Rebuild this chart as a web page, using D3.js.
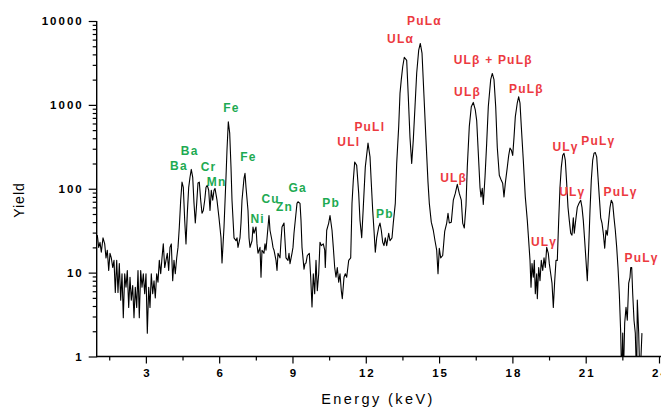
<!DOCTYPE html>
<html><head><meta charset="utf-8">
<script src="https://cdn.jsdelivr.net/npm/d3@7"></script>
<style>
html,body{margin:0;padding:0;background:#fff;}
svg{display:block;font-family:"Liberation Sans",Arial,sans-serif;}
</style></head><body>
<svg id="chart" width="661" height="408"></svg>
<script>
// ---- data (energy in keV, yield in counts) ----
const energy = [
1.012,1.070,1.123,1.176,1.246,1.315,1.368,1.422,1.479,1.532,1.585,1.643,1.696,1.749,1.806,1.859,1.913,1.970,
2.023,2.076,2.134,2.187,2.240,2.297,2.351,2.404,2.461,2.514,2.567,2.625,2.678,2.731,2.788,2.842,2.895,2.952,
3.005,3.059,3.116,3.169,3.222,3.280,3.333,3.386,3.443,3.496,3.550,3.607,3.660,3.713,3.771,3.824,3.877,3.934,3.987,
4.041,4.098,4.151,4.204,4.262,4.315,4.368,4.425,4.479,4.532,4.589,4.642,4.696,4.753,4.806,4.859,4.917,4.970,
5.023,5.080,5.133,5.187,5.244,5.297,5.350,5.408,5.461,5.514,5.571,5.625,5.678,5.735,5.788,5.829,5.911,5.993,
6.075,6.116,6.198,6.279,6.320,6.374,6.431,6.484,6.525,6.607,6.689,6.730,6.770,6.852,6.893,6.934,
7.016,7.057,7.098,7.180,7.221,7.262,7.344,7.384,7.425,7.507,7.548,7.589,7.671,7.712,7.753,7.834,7.875,7.916,7.998,
8.039,8.080,8.162,8.203,8.244,8.326,8.367,8.407,8.489,8.530,8.571,8.653,8.694,8.735,8.817,8.858,8.899,8.980,
9.021,9.062,9.144,9.185,9.226,9.308,9.349,9.390,9.472,9.513,9.553,9.607,9.689,9.746,9.799,9.852,9.909,9.963,
10.016,10.073,10.126,10.180,10.261,10.319,10.343,10.401,10.482,10.536,10.618,10.671,10.728,10.781,10.834,10.892,10.945,10.998,
11.039,11.109,11.162,11.219,11.301,11.383,11.436,11.489,11.546,11.628,11.710,11.763,11.833,11.898,11.980,
12.091,12.173,12.226,12.283,12.336,12.390,12.447,12.529,12.582,12.635,12.692,12.745,12.799,12.856,12.938,12.991,
13.073,13.126,13.208,13.265,13.347,13.400,13.453,13.511,13.576,13.674,13.740,13.809,13.879,13.944,
14.014,14.084,14.166,14.231,14.301,14.383,14.464,14.546,14.600,14.681,14.763,14.833,14.902,14.956,
15.009,15.066,15.148,15.230,15.312,15.365,15.418,15.500,15.582,15.663,15.745,15.827,15.909,15.966,
16.032,16.101,16.154,16.236,16.318,16.400,16.482,16.539,16.605,16.674,16.715,16.768,16.809,16.879,16.948,
17.014,17.112,17.178,17.247,17.317,17.382,17.464,17.546,17.603,17.656,17.710,17.792,17.849,17.902,17.955,
18.013,18.066,18.119,18.201,18.258,18.311,18.365,18.446,18.528,18.610,18.667,18.721,18.762,18.803,18.856,18.897,18.938,18.995,
19.020,19.077,19.130,19.183,19.241,19.294,19.347,19.404,19.470,19.511,19.568,19.621,19.675,19.732,19.785,19.838,19.895,19.948,
20.002,20.059,20.112,20.165,20.222,20.276,20.329,20.386,20.439,20.493,20.533,20.591,20.656,20.726,20.795,20.849,20.902,20.959,
21.012,21.066,21.123,21.176,21.229,21.287,21.340,21.393,21.450,21.504,21.557,21.614,21.667,21.721,21.778,21.831,21.884,21.942,21.995,
22.048,22.105,22.159,22.212,22.269,22.322,22.376,22.433,22.474,22.515,22.539,22.596,22.650,22.703,22.760,22.813,22.842,22.883,22.924,22.977,
23.030,23.087,23.112,23.169,23.220,23.302
];
const counts = [
28,20,23,17.5,26,22,15,18.5,10.6,17,15,11.5,14,5.8,14,5.8,12.8,4.7,
9.7,2.9,9.7,6.7,10.6,3.85,8.8,4.7,7,2.9,6.7,3.85,10.6,2.9,10.6,6.7,9.7,5.6,
9.7,1.9,6.7,3.85,9.7,5.6,8,5,9.7,7.7,14,9.7,15,22,11.5,14,17,10.6,20,
22,8,14,9.7,15,20,34.6,73,120,104,42,22,51,104,137,170,137,67,
39,67,117,120,73,51,55,73,104,110,96,55,96,73,96,101,73,45,
26,13,35,137,290,630,460,181,73,26,24,26,20,26,39,73,
133,153,104,55,26,20,24,35,29.5,35,22,17,20,8.8,18.5,17,22,18.5,35,
48,32,24,20,18.5,14,10.6,17,15,24,35,39,24,15,14,17,12.8,17,
20,29.5,51,67,70,67,42,20,11,12.8,13,16,17,8.8,3.9,9.7,5.6,14,
6.1,9.7,23,21,22,18.5,11.5,32,39,48,32,20,11.5,8.8,11.5,7.7,9.7,6.1,
4.9,8.8,9.7,8.8,14,15,67,126,208,190,88,42,26,60,181,
350,240,116,55,32,17.5,26,35,39,32,23,21,26,21,29.5,24,
26,39,67,200,550,1370,2000,2850,3700,3400,1250,410,200,380,
950,2400,4500,5400,4150,1250,380,120,67,40,32,24,18.5,9.7,
19.5,15,16,31,39,51,39,40,73,88,113,88,73,39,
34,63,181,550,950,1070,870,650,265,104,80,101,65,137,350,
950,2000,2370,2000,950,310,145,126,116,80,116,181,250,305,290,
250,410,720,1060,1250,1050,550,220,80,42,24,14,6.7,12.8,8.8,14,5.6,9.7,
4.9,11.5,8,14,10.6,15,11.5,20,17,12.8,9.7,7.5,3.85,8,14,14,42,104,
181,250,265,220,116,60,42,29.5,28,45,29.5,42,60,67,73,60,42,24,
14,8,20,55,126,220,265,270,240,137,80,45,39,29.5,19.5,32,28,42,60,
73,67,45,32,20,11.5,5.6,1.9,0.5,1.9,0.5,2.5,3.85,2.7,7.5,8.8,11.5,11.5,5.6,2.7,
1.9,0.5,4.7,1.9,0.5,1.9
];
const xTickValues = [3,6,9,12,15,18,21,24];
const xMinorValues = [1.5,4.5,7.5,10.5,13.5,16.5,19.5,22.5];
const yTickValues = [1,10,100,1000,10000];
const yTickLabels = ["1","10","100","1000","10000"];

// element (green) annotations: text, anchor energy, anchor yield
const greenLabels = ["Ba","Ba","Cr","Mn","Fe","Fe","Ni","Cu","Zn","Ga","Pb","Pb"];
const greenEnergy = [4.33,4.77,5.54,5.87,6.48,7.17,7.55,8.08,8.65,9.19,10.56,12.76];
const greenYield  = [187,284,182,120,918,239,43.6,75.5,60.6,102,67.6,50];
// U / Pu (red) annotations
const redLabels = ["ULl","PuLl","ULα","PuLα","ULβ + PuLβ","ULβ","PuLβ","ULβ","ULγ","ULγ","PuLγ","ULγ","PuLγ","PuLγ"];
const redEnergy = [11.28,12.14,13.40,14.38,17.19,16.14,18.55,15.57,19.27,20.15,21.49,20.43,22.40,23.26];
const redYield  = [364,550,6220,10000,3428,1425,1546,136,23.4,315,371,92.2,92.2,14.9];

// ---- drawing ----
const svg = d3.select("#chart");
const W = 661, H = 408;
const x = d3.scaleLinear().domain([1,24]).range([97,659]);
const y = d3.scaleLog().domain([1,10000]).range([356.5,21]);
const x0 = 96.7, yBase = 356.5;

svg.append("defs").append("clipPath").attr("id","plotclip")
  .append("rect").attr("x",x0).attr("y",0).attr("width",W-x0).attr("height",yBase);

const pts = energy.map((e,i)=>[e,counts[i]]);
const line = d3.line().x(d=>x(d[0])).y(d=>y(Math.max(d[1],0.3)));
svg.append("path").datum(pts)
  .attr("clip-path","url(#plotclip)")
  .attr("d",line).attr("fill","none").attr("stroke","#000")
  .attr("stroke-width",1.1).attr("stroke-linejoin","round");

// x axis
const gx = svg.append("g").attr("transform",`translate(0,${yBase})`)
  .call(d3.axisBottom(x).tickValues(xTickValues).tickSize(7).tickSizeOuter(0).tickPadding(5).tickFormat(d3.format("d")));
gx.select(".domain").remove();
const gxm = svg.append("g").attr("transform",`translate(0,${yBase})`)
  .call(d3.axisBottom(x).tickValues(xMinorValues).tickSize(4).tickSizeOuter(0).tickFormat(""));
gxm.select(".domain").remove();
svg.append("line").attr("x1",x0).attr("x2",W).attr("y1",yBase).attr("y2",yBase)
  .attr("stroke","#000").attr("stroke-width",1.4);

// y axis
const gy = svg.append("g").attr("transform",`translate(${x0},0)`)
  .call(d3.axisLeft(y).tickValues(yTickValues).tickSize(8).tickSizeOuter(0).tickPadding(5)
    .tickFormat((d,i)=>yTickLabels[i]));
gy.select(".domain").remove();
const yMinor = [];
[1,10,100,1000].forEach(dec=>{for(let k=2;k<=9;k++) yMinor.push(dec*k);});
const gym = svg.append("g").attr("transform",`translate(${x0},0)`)
  .call(d3.axisLeft(y).tickValues(yMinor).tickSize(4).tickSizeOuter(0).tickFormat(""));
gym.select(".domain").remove();
svg.append("line").attr("x1",x0).attr("x2",x0).attr("y1",y(10000)).attr("y2",yBase+0.7)
  .attr("stroke","#000").attr("stroke-width",1.4);

svg.selectAll(".tick line").attr("stroke","#000").attr("stroke-width",1.2);
svg.selectAll(".tick text")
  .attr("fill","#000").style("font-family","'Liberation Sans',Arial,sans-serif")
  .style("font-size","11.5px").style("font-weight","bold").style("letter-spacing","2px");
gx.selectAll(".tick text").attr("dx","1");

// axis titles
svg.append("text").attr("transform","translate(24,200) rotate(-90)")
  .attr("text-anchor","middle").style("font-size","14px").style("letter-spacing","1px")
  .attr("fill","#000").text("Yield");
svg.append("text").attr("x",378).attr("y",404)
  .attr("text-anchor","middle").style("font-size","14.5px").style("letter-spacing","2.4px")
  .attr("fill","#000").text("Energy (keV)");

// annotations
function annotate(labels, es, ys, color){
  svg.append("g").selectAll("text").data(labels).join("text")
    .attr("x",(d,i)=>x(es[i])+0.6).attr("y",(d,i)=>y(ys[i]))
    .attr("dy","0.36em").attr("text-anchor","middle")
    .style("font-size","12px").style("font-weight","bold").style("letter-spacing","1.2px")
    .attr("fill",color).text(d=>d);
}
annotate(greenLabels, greenEnergy, greenYield, "#1daa52");
annotate(redLabels, redEnergy, redYield, "#ec3a3f");
</script>
</body></html>
